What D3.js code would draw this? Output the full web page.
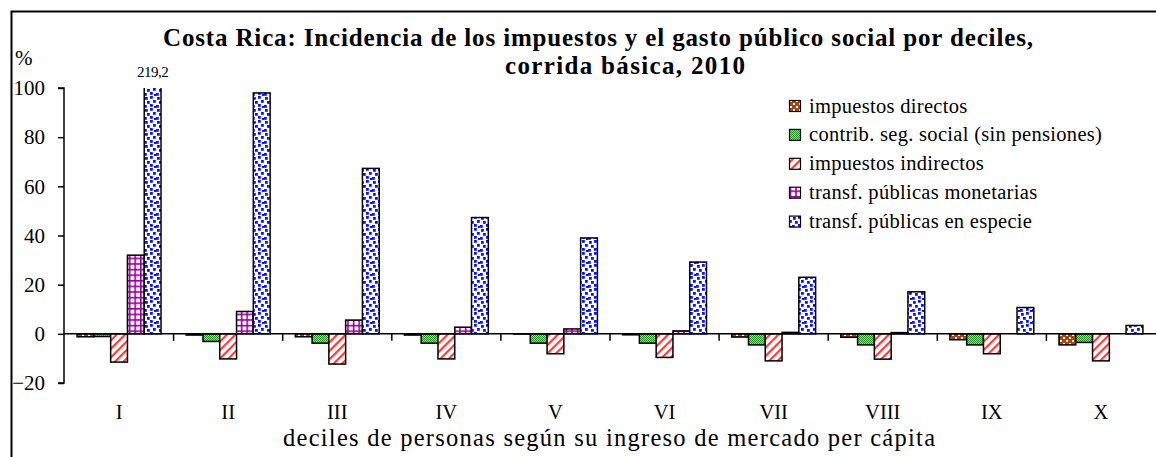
<!DOCTYPE html>
<html><head><meta charset="utf-8">
<script src="https://cdn.jsdelivr.net/npm/d3@7/dist/d3.min.js"></script>
<style>
html,body{margin:0;padding:0;background:#fff;}
svg{display:block;}
svg text{font-family:"Liberation Serif","Times New Roman",serif;}
</style></head>
<body>
<svg id="chart" width="1156" height="457"></svg>
<script>
const categories = ["I","II","III","IV","V","VI","VII","VIII","IX","X"];
const seriesNames = ["impuestos directos","contrib. seg. social (sin pensiones)","impuestos indirectos","transf. públicas monetarias","transf. públicas en especie"];
const impuestosDirectos = [-1.2,-0.5,-1.2,-0.5,-0.1,-0.4,-1.3,-1.4,-2.4,-4.5];
const contribSegSocial = [-1.1,-3.1,-3.8,-3.8,-3.8,-3.8,-4.5,-4.5,-4.5,-3.5];
const impuestosIndirectos = [-11.5,-10.2,-12.3,-10.2,-8.1,-9.6,-11.0,-10.3,-8.1,-11.0];
const transfMonetarias = [32.0,9.1,5.6,2.7,2.0,1.2,0.6,0.5,0.0,0.0];
const transfEspecie = [219.2,98.0,67.3,47.3,39.0,29.2,23.0,17.1,10.7,3.4];
const yTicks = [-20,0,20,40,60,80,100];
const labelText = "219,2";

const seriesValues = [impuestosDirectos, contribSegSocial, impuestosIndirectos, transfMonetarias, transfEspecie];
const patIds = ["pDir","pSeg","pInd","pMon","pEsp"];
const SERIF = "Liberation Serif";

const svg = d3.select("#chart");
const defs = svg.append("defs");

// patterns
const p0 = defs.append("pattern").attr("id","pDir").attr("patternUnits","userSpaceOnUse").attr("width",6).attr("height",6);
p0.append("rect").attr("width",6).attr("height",6).attr("fill","#a8460f");
p0.append("rect").attr("x",1).attr("y",1).attr("width",2).attr("height",2).attr("fill","#fff");
p0.append("rect").attr("x",4).attr("y",4).attr("width",2).attr("height",2).attr("fill","#fff");

const p1 = defs.append("pattern").attr("id","pSeg").attr("patternUnits","userSpaceOnUse").attr("width",2).attr("height",2);
p1.append("rect").attr("width",2).attr("height",2).attr("fill","#9fd29f");
p1.append("rect").attr("width",1).attr("height",1).attr("fill","#239023");
p1.append("rect").attr("x",1).attr("y",1).attr("width",1).attr("height",1).attr("fill","#239023");

const p2 = defs.append("pattern").attr("id","pInd").attr("patternUnits","userSpaceOnUse").attr("width",6).attr("height",6).attr("patternTransform","rotate(45)");
p2.append("rect").attr("width",6).attr("height",6).attr("fill","#fff");
p2.append("rect").attr("width",2.2).attr("height",6).attr("fill","#ff3b3b");

const p3 = defs.append("pattern").attr("id","pMon").attr("patternUnits","userSpaceOnUse").attr("width",5.6).attr("height",5.6);
p3.append("rect").attr("width",5.6).attr("height",5.6).attr("fill","#fff");
p3.append("rect").attr("width",1.6).attr("height",5.6).attr("fill","#990099");
p3.append("rect").attr("width",5.6).attr("height",1.6).attr("fill","#990099");

const p4 = defs.append("pattern").attr("id","pEsp").attr("patternUnits","userSpaceOnUse").attr("width",12).attr("height",12);
p4.append("rect").attr("width",12).attr("height",12).attr("fill","#fff");
[[1,1],[6,0],[9,4],[3,5],[0,9],[6,8],[10,10]].forEach(([x,y])=>{
  p4.append("rect").attr("x",x).attr("y",y).attr("width",2.8).attr("height",2.8).attr("fill","#0a14ff");
});

// frame
svg.append("path").attr("d","M11.5,460 V11.5 H1160").attr("fill","none").attr("stroke","#000").attr("stroke-width",2);

// scales
const x = d3.scaleBand().domain(categories).range([64.5,1155.5]).paddingInner(0).paddingOuter(0);
const bw = x.bandwidth();
const gapOff = bw*0.75/6.5;
const xs = d3.scaleBand().domain(d3.range(5)).range([gapOff, bw-gapOff]).padding(0);
const y = d3.scaleLinear().domain([-20,100]).range([383,88]);

defs.append("clipPath").attr("id","plotClip").append("rect")
  .attr("x",64).attr("y",y(100)).attr("width",1100).attr("height",y(-20)-y(100));

// bars
const gBars = svg.append("g").attr("clip-path","url(#plotClip)");
seriesValues.forEach((vals,si)=>{
  gBars.selectAll(null).data(vals.map((v,i)=>({v,c:categories[i]}))).enter()
    .filter(d=>d.v!==0)
    .append("rect")
    .attr("x",d=>x(d.c)+xs(si))
    .attr("width",xs.bandwidth())
    .attr("y",d=>y(Math.max(0,d.v)))
    .attr("height",d=>Math.abs(y(d.v)-y(0)))
    .attr("fill",`url(#${patIds[si]})`)
    .attr("stroke","#000").attr("stroke-width",1.5);
});

// y axis
const yAxis = d3.axisLeft(y).tickValues(yTicks).tickSize(6).tickFormat(d3.format("d"));
const gy = svg.append("g").attr("transform","translate(64,0)").call(yAxis);
gy.attr("font-family",SERIF).attr("font-size",21);
gy.select(".domain").attr("stroke","#000").attr("stroke-width",1.5).attr("d",`M-6,${y(100)}H0V${y(-20)}H-6`);
gy.selectAll(".tick line").attr("stroke","#000").attr("stroke-width",1.5);
gy.selectAll(".tick text").attr("x",-19).attr("fill","#000");

// x axis at zero
const xAxis = d3.axisBottom(x).tickSize(0).tickFormat("");
const gx = svg.append("g").attr("transform",`translate(0,${y(0)})`).call(xAxis);
gx.select(".domain").attr("stroke","#000").attr("stroke-width",1.5).attr("d","M64,0H1156");
gx.selectAll(".tick").remove();
gx.selectAll(".bt").data(categories.slice(1)).enter().append("line")
  .attr("x1",d=>x(d)).attr("x2",d=>x(d)).attr("y1",0).attr("y2",7)
  .attr("stroke","#000").attr("stroke-width",1.5);

// category labels
svg.append("g").selectAll("text").data(categories).enter().append("text")
  .attr("x",d=>x(d)+bw/2).attr("y",419).attr("text-anchor","middle")
  .attr("font-family",SERIF).attr("font-size",20.5).text(d=>d);

// axis title
svg.append("text").attr("x",283).attr("y",446)
  .attr("font-family",SERIF).attr("font-size",24.5).attr("textLength",652).attr("lengthAdjust","spacing")
  .text("deciles de personas según su ingreso de mercado per cápita");

// % label
svg.append("text").attr("x",15).attr("y",65).attr("font-family",SERIF).attr("font-size",21).text("%");

// value label
svg.append("text").attr("x",x("I")+xs(4)+xs.bandwidth()/2).attr("y",77).attr("text-anchor","middle")
  .attr("font-family",SERIF).attr("font-size",15).attr("letter-spacing",-0.5).text(labelText);

// title
svg.append("text").attr("x",163).attr("y",46).attr("font-family",SERIF).attr("font-size",25).attr("font-weight","bold")
  .attr("textLength",870).attr("lengthAdjust","spacing")
  .text("Costa Rica: Incidencia de los impuestos y el gasto público social por deciles,");
svg.append("text").attr("x",505).attr("y",74).attr("font-family",SERIF).attr("font-size",25).attr("font-weight","bold")
  .attr("textLength",240).attr("lengthAdjust","spacing")
  .text("corrida básica, 2010");

// legend
const lg = svg.append("g");
seriesNames.forEach((n,i)=>{
  const cy = 106 + i*28.9;
  lg.append("rect").attr("x",789.5).attr("y",cy-5.5).attr("width",11).attr("height",11)
    .attr("fill",`url(#${patIds[i]})`).attr("stroke","#000").attr("stroke-width",1.2);
  lg.append("text").attr("x",809).attr("y",cy+6.5).attr("font-family",SERIF).attr("font-size",20.5)
    .attr("letter-spacing",0.3).text(n);
});
</script>
</body></html>
